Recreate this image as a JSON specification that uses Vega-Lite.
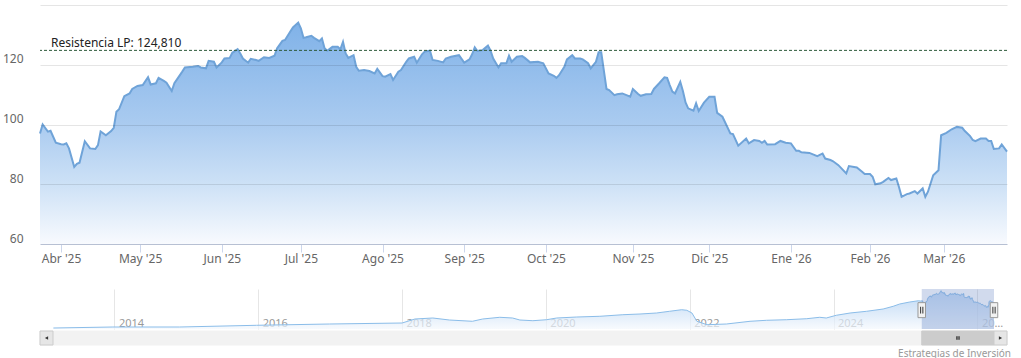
{
  "$schema": "https://vega.github.io/schema/vega-lite/v6.json",
  "padding": {"left": 0, "top": 5, "right": 10, "bottom": 2},
  "background": "#ffffff",
  "config": {"view": {"stroke": null}, "font": "Noto Sans"},
  "title": {"text": "Estrategias de Inversión", "orient": "bottom", "anchor": "end", "fontSize": 10, "fontWeight": "normal", "color": "#999999", "offset": 3, "font": "Noto Sans"},
  "datasets": {
    "main": [
      {"date":"2025-03-24","value":97.0},{"date":"2025-03-25","value":100.0},{"date":"2025-03-27","value":97.6},{"date":"2025-03-28","value":97.9},{"date":"2025-03-30","value":93.9},{"date":"2025-04-01","value":93.4},{"date":"2025-04-02","value":93.3},{"date":"2025-04-03","value":93.7},{"date":"2025-04-04","value":92.0},{"date":"2025-04-06","value":85.8},{"date":"2025-04-07","value":86.8},{"date":"2025-04-08","value":87.2},{"date":"2025-04-10","value":94.4},{"date":"2025-04-12","value":92.0},{"date":"2025-04-14","value":91.8},{"date":"2025-04-15","value":93.1},{"date":"2025-04-16","value":97.7},{"date":"2025-04-18","value":96.4},{"date":"2025-04-20","value":97.8},{"date":"2025-04-21","value":98.9},{"date":"2025-04-22","value":104.3},{"date":"2025-04-23","value":105.1},{"date":"2025-04-25","value":109.5},{"date":"2025-04-27","value":110.4},{"date":"2025-04-28","value":111.9},{"date":"2025-04-30","value":112.9},{"date":"2025-05-02","value":113.2},{"date":"2025-05-04","value":115.8},{"date":"2025-05-05","value":113.4},{"date":"2025-05-07","value":113.8},{"date":"2025-05-08","value":115.6},{"date":"2025-05-10","value":114.6},{"date":"2025-05-11","value":114.0},{"date":"2025-05-13","value":111.2},{"date":"2025-05-14","value":113.8},{"date":"2025-05-15","value":115.1},{"date":"2025-05-17","value":117.7},{"date":"2025-05-18","value":119.1},{"date":"2025-05-21","value":119.3},{"date":"2025-05-23","value":119.6},{"date":"2025-05-24","value":119.1},{"date":"2025-05-26","value":118.8},{"date":"2025-05-27","value":121.3},{"date":"2025-05-29","value":121.0},{"date":"2025-05-30","value":119.1},{"date":"2025-06-01","value":120.8},{"date":"2025-06-02","value":122.1},{"date":"2025-06-04","value":122.3},{"date":"2025-06-05","value":124.0},{"date":"2025-06-07","value":125.2},{"date":"2025-06-08","value":123.8},{"date":"2025-06-09","value":122.1},{"date":"2025-06-11","value":120.7},{"date":"2025-06-12","value":122.0},{"date":"2025-06-14","value":121.6},{"date":"2025-06-15","value":121.3},{"date":"2025-06-17","value":122.5},{"date":"2025-06-19","value":122.3},{"date":"2025-06-21","value":123.0},{"date":"2025-06-22","value":125.5},{"date":"2025-06-24","value":128.0},{"date":"2025-06-25","value":128.3},{"date":"2025-06-27","value":131.1},{"date":"2025-06-28","value":132.5},{"date":"2025-06-30","value":134.1},{"date":"2025-07-01","value":132.2},{"date":"2025-07-02","value":129.0},{"date":"2025-07-03","value":129.2},{"date":"2025-07-05","value":129.7},{"date":"2025-07-06","value":129.0},{"date":"2025-07-08","value":127.9},{"date":"2025-07-09","value":128.8},{"date":"2025-07-10","value":125.5},{"date":"2025-07-11","value":124.7},{"date":"2025-07-13","value":126.0},{"date":"2025-07-15","value":126.0},{"date":"2025-07-16","value":125.2},{"date":"2025-07-17","value":127.7},{"date":"2025-07-18","value":123.8},{"date":"2025-07-19","value":122.3},{"date":"2025-07-21","value":123.2},{"date":"2025-07-22","value":119.3},{"date":"2025-07-23","value":118.0},{"date":"2025-07-25","value":118.2},{"date":"2025-07-27","value":117.9},{"date":"2025-07-29","value":117.1},{"date":"2025-07-30","value":118.6},{"date":"2025-08-01","value":116.2},{"date":"2025-08-02","value":116.0},{"date":"2025-08-04","value":116.9},{"date":"2025-08-05","value":114.9},{"date":"2025-08-07","value":117.7},{"date":"2025-08-08","value":118.2},{"date":"2025-08-10","value":121.0},{"date":"2025-08-11","value":122.1},{"date":"2025-08-13","value":122.7},{"date":"2025-08-14","value":120.7},{"date":"2025-08-16","value":123.5},{"date":"2025-08-17","value":124.4},{"date":"2025-08-19","value":124.7},{"date":"2025-08-20","value":121.6},{"date":"2025-08-22","value":121.3},{"date":"2025-08-24","value":120.8},{"date":"2025-08-25","value":122.1},{"date":"2025-08-27","value":122.7},{"date":"2025-08-30","value":123.2},{"date":"2025-09-01","value":120.7},{"date":"2025-09-03","value":121.8},{"date":"2025-09-04","value":123.5},{"date":"2025-09-05","value":125.8},{"date":"2025-09-06","value":124.6},{"date":"2025-09-08","value":124.9},{"date":"2025-09-10","value":126.4},{"date":"2025-09-11","value":124.7},{"date":"2025-09-12","value":122.1},{"date":"2025-09-14","value":119.1},{"date":"2025-09-15","value":120.5},{"date":"2025-09-17","value":120.5},{"date":"2025-09-18","value":123.0},{"date":"2025-09-19","value":121.0},{"date":"2025-09-21","value":122.7},{"date":"2025-09-23","value":122.9},{"date":"2025-09-24","value":122.3},{"date":"2025-09-26","value":120.8},{"date":"2025-09-29","value":121.0},{"date":"2025-10-01","value":120.5},{"date":"2025-10-03","value":117.1},{"date":"2025-10-05","value":116.3},{"date":"2025-10-06","value":115.6},{"date":"2025-10-07","value":116.5},{"date":"2025-10-09","value":119.3},{"date":"2025-10-10","value":121.8},{"date":"2025-10-12","value":123.2},{"date":"2025-10-13","value":122.1},{"date":"2025-10-15","value":122.1},{"date":"2025-10-16","value":121.8},{"date":"2025-10-18","value":120.5},{"date":"2025-10-19","value":118.8},{"date":"2025-10-21","value":121.0},{"date":"2025-10-22","value":124.2},{"date":"2025-10-23","value":124.2},{"date":"2025-10-25","value":111.9},{"date":"2025-10-26","value":111.5},{"date":"2025-10-28","value":109.8},{"date":"2025-10-29","value":110.1},{"date":"2025-10-31","value":110.4},{"date":"2025-11-03","value":109.3},{"date":"2025-11-04","value":111.9},{"date":"2025-11-06","value":110.2},{"date":"2025-11-07","value":109.6},{"date":"2025-11-09","value":110.1},{"date":"2025-11-11","value":110.2},{"date":"2025-11-12","value":111.9},{"date":"2025-11-14","value":113.8},{"date":"2025-11-16","value":115.8},{"date":"2025-11-17","value":115.6},{"date":"2025-11-18","value":113.2},{"date":"2025-11-19","value":111.0},{"date":"2025-11-20","value":110.4},{"date":"2025-11-22","value":114.3},{"date":"2025-11-23","value":111.2},{"date":"2025-11-24","value":107.4},{"date":"2025-11-25","value":105.4},{"date":"2025-11-27","value":104.6},{"date":"2025-11-28","value":107.1},{"date":"2025-11-29","value":104.5},{"date":"2025-12-01","value":107.3},{"date":"2025-12-03","value":109.3},{"date":"2025-12-05","value":109.3},{"date":"2025-12-06","value":103.9},{"date":"2025-12-08","value":102.6},{"date":"2025-12-11","value":97.0},{"date":"2025-12-12","value":96.8},{"date":"2025-12-14","value":92.9},{"date":"2025-12-17","value":95.3},{"date":"2025-12-18","value":93.7},{"date":"2025-12-20","value":94.8},{"date":"2025-12-22","value":94.5},{"date":"2025-12-23","value":93.9},{"date":"2025-12-24","value":94.5},{"date":"2025-12-25","value":93.3},{"date":"2025-12-28","value":93.4},{"date":"2025-12-30","value":94.5},{"date":"2026-01-01","value":93.9},{"date":"2026-01-03","value":93.7},{"date":"2026-01-05","value":91.2},{"date":"2026-01-06","value":91.2},{"date":"2026-01-07","value":90.7},{"date":"2026-01-10","value":90.5},{"date":"2026-01-13","value":89.4},{"date":"2026-01-15","value":90.3},{"date":"2026-01-16","value":88.6},{"date":"2026-01-18","value":88.1},{"date":"2026-01-19","value":87.7},{"date":"2026-01-21","value":86.4},{"date":"2026-01-24","value":83.6},{"date":"2026-01-25","value":86.1},{"date":"2026-01-28","value":85.6},{"date":"2026-01-30","value":84.2},{"date":"2026-01-31","value":83.4},{"date":"2026-02-02","value":83.4},{"date":"2026-02-03","value":82.5},{"date":"2026-02-04","value":80.0},{"date":"2026-02-06","value":80.3},{"date":"2026-02-07","value":80.8},{"date":"2026-02-09","value":82.1},{"date":"2026-02-10","value":81.4},{"date":"2026-02-12","value":81.9},{"date":"2026-02-13","value":79.1},{"date":"2026-02-14","value":75.8},{"date":"2026-02-16","value":76.7},{"date":"2026-02-17","value":76.9},{"date":"2026-02-19","value":77.7},{"date":"2026-02-20","value":76.9},{"date":"2026-02-22","value":78.6},{"date":"2026-02-23","value":75.8},{"date":"2026-02-24","value":77.5},{"date":"2026-02-26","value":83.0},{"date":"2026-02-28","value":84.7},{"date":"2026-03-01","value":96.4},{"date":"2026-03-03","value":97.2},{"date":"2026-03-05","value":98.4},{"date":"2026-03-07","value":99.2},{"date":"2026-03-09","value":98.9},{"date":"2026-03-10","value":97.8},{"date":"2026-03-12","value":96.1},{"date":"2026-03-13","value":94.8},{"date":"2026-03-14","value":94.4},{"date":"2026-03-16","value":95.3},{"date":"2026-03-18","value":95.3},{"date":"2026-03-19","value":94.5},{"date":"2026-03-20","value":94.5},{"date":"2026-03-21","value":91.8},{"date":"2026-03-23","value":92.0},{"date":"2026-03-24","value":93.3},{"date":"2026-03-26","value":90.9}
    ],
    "hist": [
      {"date":"2013-02-25","value":3.5},{"date":"2013-12-24","value":7},{"date":"2014-11-28","value":7},{"date":"2015-12-24","value":13},{"date":"2016-12-28","value":17.5},{"date":"2018-01-01","value":21},{"date":"2018-03-07","value":35},{"date":"2018-06-06","value":38.5},{"date":"2018-08-29","value":31.5},{"date":"2018-12-24","value":27},{"date":"2019-02-14","value":35},{"date":"2019-05-12","value":41},{"date":"2019-07-16","value":38.5},{"date":"2019-08-22","value":31.5},{"date":"2019-10-27","value":29},{"date":"2020-01-05","value":32.5},{"date":"2020-02-25","value":38.5},{"date":"2020-06-06","value":42},{"date":"2020-10-01","value":44.5},{"date":"2021-01-26","value":50},{"date":"2021-04-23","value":52.5},{"date":"2021-07-16","value":56},{"date":"2021-09-20","value":62},{"date":"2021-11-21","value":67.5},{"date":"2021-12-17","value":65.5},{"date":"2022-01-12","value":56},{"date":"2022-02-06","value":27},{"date":"2022-03-29","value":15},{"date":"2022-07-06","value":17.5},{"date":"2022-11-03","value":27},{"date":"2023-01-26","value":30.5},{"date":"2023-05-08","value":32.5},{"date":"2023-08-18","value":36},{"date":"2023-10-23","value":41},{"date":"2023-11-25","value":38.5},{"date":"2024-01-15","value":48},{"date":"2024-03-25","value":56},{"date":"2024-06-17","value":62},{"date":"2024-09-09","value":70},{"date":"2024-10-30","value":79.5},{"date":"2024-12-02","value":87.5},{"date":"2025-01-22","value":94.5},{"date":"2025-03-08","value":99},{"date":"2025-03-24","value":97.0}
    ],
    "res": [{"date":"2025-03-24","value":124.81,"label":"Resistencia LP: 124,810"}],
    "sel": [{"start":"2025-03-24","end":"2026-03-26"}],
    "handles": [{"date":"2025-03-24"},{"date":"2026-03-26"}],
    "scroll": [
      {"part":"track","start":"2012-12-19","end":"2026-05-31"},
      {"part":"lbtn","start":"2012-12-19","end":"2013-02-23"},
      {"part":"thumb","start":"2025-03-24","end":"2026-03-26"},
      {"part":"rbtn","start":"2026-03-26","end":"2026-05-31"}
    ],
    "arrows": [{"date":"2013-01-21","dir":"left"},{"date":"2026-04-28","dir":"right"}],
    "grip": [{"date":"2025-09-24"}]
  },
  "spacing": 24,
  "vconcat": [
    {
      "width": 967,
      "height": 239,
      "layer": [
        {
          "data": {"name": "main"},
          "mark": {"type": "area", "color": {"gradient": "linear", "x1": 0, "y1": 0, "x2": 0, "y2": 1, "stops": [{"offset": 0, "color": "#80b2e8"}, {"offset": 0.46, "color": "#aacbf0"}, {"offset": 0.73, "color": "#cde1f6"}, {"offset": 1, "color": "#f8fafe"}]}},
          "encoding": {
            "x": {"field": "date", "type": "temporal",
              "scale": {"type": "utc", "domain": [{"year": 2025, "month": 3, "date": 24, "utc": true}, {"year": 2026, "month": 3, "date": 26, "utc": true}]},
              "axis": {"title": null, "values": [{"year":2025,"month":4,"date":1,"utc":true},{"year":2025,"month":5,"date":1,"utc":true},{"year":2025,"month":6,"date":1,"utc":true},{"year":2025,"month":7,"date":1,"utc":true},{"year":2025,"month":8,"date":1,"utc":true},{"year":2025,"month":9,"date":1,"utc":true},{"year":2025,"month":10,"date":2,"utc":true},{"year":2025,"month":11,"date":4,"utc":true},{"year":2025,"month":12,"date":3,"utc":true},{"year":2026,"month":1,"date":3,"utc":true},{"year":2026,"month":2,"date":2,"utc":true},{"year":2026,"month":3,"date":2,"utc":true}],
                "labelExpr": "['Ene','Feb','Mar','Abr','May','Jun','Jul','Ago','Sep','Oct','Nov','Dic'][utcmonth(datum.value)] + \" '\" + utcFormat(datum.value, '%y')",
                "grid": false, "domainColor": "#ccd6eb", "tickColor": "#ccd6eb", "tickSize": 8, "labelPadding": 1, "labelFontSize": 12, "labelColor": "#666666", "labelFlush": false}},
            "y": {"field": "value", "type": "quantitative", "scale": {"domain": [60, 140], "nice": false, "zero": false},
              "axis": {"title": null, "values": [60, 80, 100, 120, 140], "labelExpr": "datum.value == 140 ? '' : datum.label", "domain": false, "ticks": false, "tickSize": 0, "labelPadding": 17, "labelOffset": -6, "gridColor": "#000000", "gridOpacity": 0.1, "zindex": 1, "labelFontSize": 12, "labelColor": "#666666", "minExtent": 40, "maxExtent": 40}},
            "y2": {"datum": 60}
          }
        },
        {
          "data": {"name": "main"},
          "mark": {"type": "line", "color": "#6fa3d8", "strokeWidth": 2},
          "encoding": {"x": {"field": "date", "type": "temporal"}, "y": {"field": "value", "type": "quantitative"}}
        },
        {
          "data": {"name": "res"},
          "mark": {"type": "rule", "color": "#2e5b3c", "strokeDash": [3, 2], "strokeWidth": 1},
          "encoding": {"y": {"field": "value", "type": "quantitative"}}
        },
        {
          "data": {"name": "res"},
          "mark": {"type": "text", "align": "left", "baseline": "alphabetic", "dx": 11, "dy": -3, "fontSize": 12, "color": "#222222"},
          "encoding": {"x": {"field": "date", "type": "temporal"}, "y": {"field": "value", "type": "quantitative"}, "text": {"field": "label"}}
        }
      ]
    },
    {
      "spacing": 0,
      "vconcat": [
        {
          "width": 967,
          "height": 40,
          "layer": [
            {
              "data": {"name": "hist"},
              "mark": {"type": "area", "line": {"color": "#8bbde9", "strokeWidth": 1}, "color": {"gradient": "linear", "x1": 0, "y1": 0, "x2": 0, "y2": 1, "stops": [{"offset": 0, "color": "#b5d3f3"}, {"offset": 1, "color": "#f4f8fd"}]}},
              "encoding": {
                "x": {"field": "date", "type": "temporal",
                  "scale": {"type": "utc", "domain": [{"year": 2012, "month": 12, "date": 19, "utc": true}, {"year": 2026, "month": 5, "date": 31, "utc": true}]},
                  "axis": {"title": null, "values": [{"year":2014,"month":1,"date":1,"utc":true},{"year":2016,"month":1,"date":1,"utc":true},{"year":2018,"month":1,"date":1,"utc":true},{"year":2020,"month":1,"date":1,"utc":true},{"year":2022,"month":1,"date":1,"utc":true},{"year":2024,"month":1,"date":1,"utc":true},{"year":2026,"month":1,"date":1,"utc":true}],
                    "labelExpr": "utcyear(datum.value) == 2026 ? '20…' : utcFormat(datum.value, '%Y')",
                    "domain": false, "ticks": false, "grid": true, "gridColor": "#e6e6e6", "labelAlign": "left", "labelPadding": -12, "labelOffset": 4, "labelFontSize": 11, "labelColor": "#999999", "labelFlush": false, "labelOverlap": false}},
                "y": {"field": "value", "type": "quantitative", "scale": {"domain": [0, 140], "nice": false}, "axis": null},
                "y2": {"datum": 0}
              }
            },
            {
              "data": {"name": "main"},
              "mark": {"type": "area", "line": {"color": "#8bbde9", "strokeWidth": 1}, "color": {"gradient": "linear", "x1": 0, "y1": 0, "x2": 0, "y2": 1, "stops": [{"offset": 0, "color": "#a9cbf1"}, {"offset": 1, "color": "#e3eefa"}]}},
              "encoding": {"x": {"field": "date", "type": "temporal"}, "y": {"field": "value", "type": "quantitative"}, "y2": {"datum": 0}}
            },
            {
              "data": {"name": "sel"},
              "mark": {"type": "rect", "color": "#6685c2", "opacity": 0.3},
              "encoding": {"x": {"field": "start", "type": "temporal"}, "x2": {"field": "end"}}
            },
            {
              "mark": {"type": "rule", "color": "#cccccc", "strokeWidth": 1},
              "encoding": {"y": {"datum": 140}}
            },
            {
              "data": {"name": "handles"},
              "mark": {"type": "point", "shape": "M-0.5,-1V1H0.5V-1Z", "size": 225, "filled": true, "fill": "#f2f2f2", "stroke": "#999999", "strokeWidth": 1, "opacity": 1},
              "encoding": {"x": {"field": "date", "type": "temporal"}, "y": {"datum": 66}}
            },
            {
              "data": {"name": "handles"},
              "mark": {"type": "point", "shape": "M-0.15,-0.45V0.45M0.15,-0.45V0.45", "size": 225, "filled": false, "stroke": "#333333", "strokeWidth": 1, "opacity": 1},
              "encoding": {"x": {"field": "date", "type": "temporal"}, "y": {"datum": 66}}
            }
          ]
        },
        {
          "width": 967,
          "height": 14,
          "layer": [
            {
              "data": {"name": "scroll"},
              "mark": {"type": "rect", "strokeWidth": 1},
              "encoding": {
                "x": {"field": "start", "type": "temporal", "scale": {"type": "utc", "domain": [{"year": 2012, "month": 12, "date": 19, "utc": true}, {"year": 2026, "month": 5, "date": 31, "utc": true}]}, "axis": null},
                "x2": {"field": "end"},
                "color": {"field": "part", "type": "nominal", "scale": {"domain": ["track", "lbtn", "thumb", "rbtn"], "range": ["#f2f2f2", "#e6e6e6", "#cccccc", "#e6e6e6"]}, "legend": null},
                "stroke": {"field": "part", "type": "nominal", "scale": {"domain": ["track", "lbtn", "thumb", "rbtn"], "range": ["#f2f2f2", "#cccccc", "#cccccc", "#cccccc"]}, "legend": null}
              }
            },
            {
              "data": {"name": "arrows"},
              "mark": {"type": "point", "filled": true, "size": 14, "color": "#333333", "opacity": 1},
              "encoding": {
                "x": {"field": "date", "type": "temporal"},
                "shape": {"field": "dir", "type": "nominal", "scale": {"domain": ["left", "right"], "range": ["triangle-left", "triangle-right"]}, "legend": null}
              }
            },
            {
              "data": {"name": "grip"},
              "mark": {"type": "point", "shape": "M-0.35,-0.5V0.5M0,-0.5V0.5M0.35,-0.5V0.5", "size": 49, "filled": false, "stroke": "#333333", "strokeWidth": 1, "opacity": 1},
              "encoding": {"x": {"field": "date", "type": "temporal"}}
            }
          ]
        }
      ]
    }
  ]
}
